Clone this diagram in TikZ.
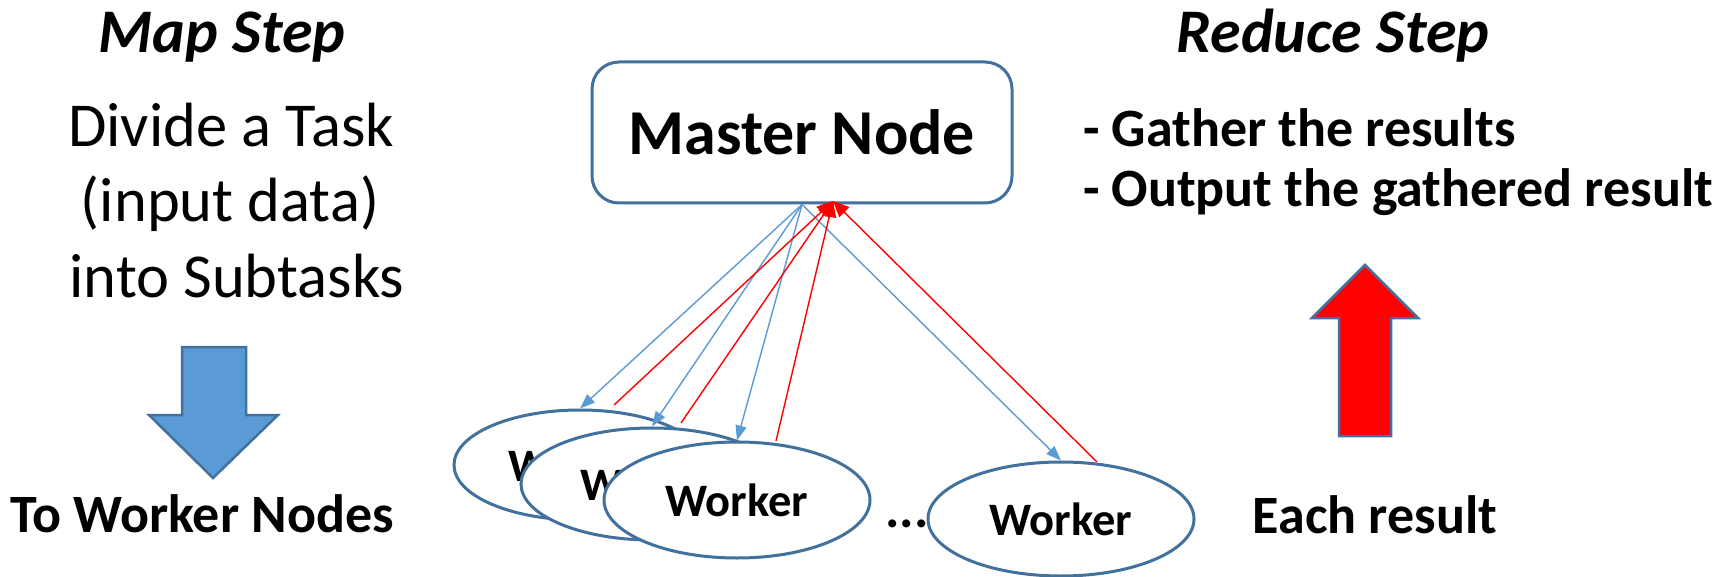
\documentclass[tikz,border=0pt]{standalone}
\usepackage{fontspec}
\setmainfont{Carlito}
\usetikzlibrary{arrows.meta,shapes.geometric,calc}
\definecolor{edgeblue}{HTML}{41719C}
\definecolor{fillblue}{HTML}{5B9BD5}
\definecolor{linkred}{HTML}{FF0000}
\begin{document}
\begin{tikzpicture}[x=1pt,y=-1pt,
  txt/.style={inner sep=0pt,outer sep=0pt,anchor=base},
  headfont/.style={font=\fontsize{62}{74}\selectfont\bfseries\itshape},
  plainfont/.style={font=\fontsize{62.5}{74}\selectfont},
  boldfont/.style={font=\fontsize{54}{64}\selectfont\bfseries},
  masterbox/.style={draw=edgeblue,line width=3pt,fill=white,rounded corners=27pt,
    minimum width=420pt,minimum height=141pt,inner sep=0pt,
    font=\fontsize{64}{75}\selectfont\bfseries},
  workerellipse/.style={ellipse,draw=edgeblue,line width=3pt,fill=white,inner sep=0pt,
    font=\fontsize{46.5}{56}\selectfont\bfseries},
  bluelink/.style={draw=fillblue,line width=1.4pt,-{Triangle[length=15pt,width=11pt]}},
  redlink/.style={draw=linkred,line width=1.4pt,-{Triangle[length=16pt,width=14pt]}},
  blockarrow/.style={draw=edgeblue,line width=2.5pt,line join=miter}
]
\useasboundingbox (0,0) rectangle (1729,577);
\fill[white] (0,0) rectangle (1729,577);

% left column: map step
\node[txt,headfont] (mapstep) at (222,53) {Map Step};
\node[txt,plainfont] (div1) at (231,147) {Divide a Task};
\node[txt,plainfont] (div2) at (230,222) {(input data)};
\node[txt,plainfont] (div3) at (237,298) {into Subtasks};
\draw[blockarrow,fill=fillblue] (182,347) -- (246,347) -- (246,415) -- (278,415)
  -- (213,478) -- (149,415) -- (182,415) -- cycle;
\node[txt,boldfont] (toworkers) at (202,532) {To Worker Nodes};

% master node
\node[masterbox,text depth=-6pt] (master) at (802,132.5) {Master Node};
\coordinate (gather) at (833,201);

% worker nodes
\node[workerellipse,minimum width=252pt,minimum height=110pt] (w1) at (580,465) {Worker};
\node[workerellipse,minimum width=262pt,minimum height=112pt] (w2) at (652,484) {Worker};
\node[workerellipse,minimum width=266pt,minimum height=116pt] (w3) at (737,500) {Worker};
\node[workerellipse,minimum width=266pt,minimum height=114pt] (w4) at (1061,519) {Worker};
\node[txt,boldfont] (dots) at (907,527) {...};

% subtasks sent to the workers
\draw[bluelink] (master.south) -- (w1.north);
\draw[bluelink] (master.south) -- (w2.north);
\draw[bluelink] (master.south) -- (w3.north);
\draw[bluelink] (master.south) -- (w4.north);

% results returned to the master
\draw[redlink] ($(w1.center)+(34,-60)$) -- (gather);
\draw[redlink] ($(w2.center)+(29,-61)$) -- (gather);
\draw[redlink] ($(w3.center)+(39,-59)$) -- (gather);
\draw[redlink] ($(w4.center)+(36,-57)$) -- (gather);

% right column: reduce step
\node[txt,headfont] (reduce) at (1333,53) {Reduce Step};
\node[txt,boldfont,anchor=base west] (gatherline) at (1083,147) {- Gather the results};
\node[txt,boldfont,anchor=base west] (outputline) at (1083,207) {- Output the gathered result};
\draw[blockarrow,fill=linkred] (1339,436) -- (1339,318) -- (1312,318) -- (1365,265)
  -- (1418,318) -- (1391,318) -- (1391,436) -- cycle;
\node[txt,boldfont] (each) at (1375,533) {Each result};
\end{tikzpicture}
\end{document}
